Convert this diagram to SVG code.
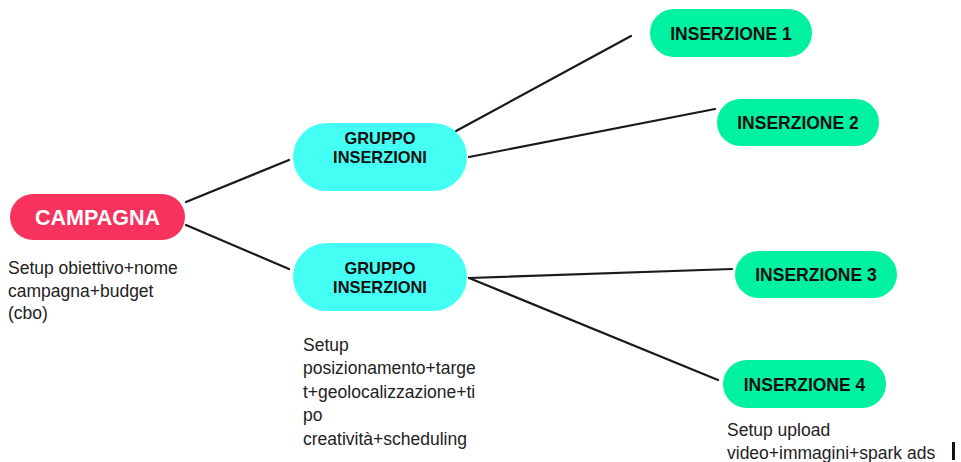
<svg xmlns="http://www.w3.org/2000/svg" width="961" height="462" viewBox="0 0 961 462">
<style>
.lbl{font-family:"Liberation Sans",Arial,sans-serif;font-weight:bold;text-anchor:middle;fill:#111}
.ins{font-size:17.5px}
.grp{font-size:16.4px}
.note{font-family:"Liberation Sans",Arial,sans-serif;font-size:17.5px;fill:#222}
.conn line{stroke:#1a1a1a;stroke-width:2.2;stroke-linecap:round}
</style>
<rect width="961" height="462" fill="#ffffff"/>
<g class="conn" id="connectors">
<line x1="186" y1="202" x2="289" y2="160"/>
<line x1="186" y1="225" x2="289" y2="269"/>
<line x1="456" y1="131" x2="631" y2="36"/>
<line x1="469" y1="157" x2="715" y2="109"/>
<line x1="469" y1="278" x2="732" y2="269"/>
<line x1="469" y1="278" x2="718" y2="380"/>
</g>
<g id="campagna">
<rect x="10" y="194" width="175" height="46" rx="23" fill="#F7325C"/>
<text class="lbl" x="97.5" y="225" font-size="21.5" fill="#ffffff" style="fill:#fff">CAMPAGNA</text>
</g>
<g id="note-campagna">
<text class="note" x="8" y="274">Setup obiettivo+nome</text>
<text class="note" x="8" y="297">campagna+budget</text>
<text class="note" x="8" y="319">(cbo)</text>
</g>
<g id="gruppo1">
<rect x="293" y="123" width="174" height="68" rx="34" fill="#44FFF4"/>
<text class="lbl grp" x="380" y="144">GRUPPO</text>
<text class="lbl grp" x="380" y="163">INSERZIONI</text>
</g>
<g id="gruppo2">
<rect x="293" y="243" width="174" height="68" rx="34" fill="#44FFF4"/>
<text class="lbl grp" x="380" y="274">GRUPPO</text>
<text class="lbl grp" x="380" y="293">INSERZIONI</text>
</g>
<g id="note-gruppo2">
<text class="note" x="303" y="351">Setup</text>
<text class="note" x="303" y="374">posizionamento+targe</text>
<text class="note" x="303" y="398">t+geolocalizzazione+ti</text>
<text class="note" x="303" y="421">po</text>
<text class="note" x="303" y="445">creatività+scheduling</text>
</g>
<g id="ins1">
<rect x="650" y="9" width="162" height="48" rx="24" fill="#00F2A0"/>
<text class="lbl ins" x="731" y="40">INSERZIONE 1</text>
</g>
<g id="ins2">
<rect x="717" y="99" width="162" height="47" rx="23.5" fill="#00F2A0"/>
<text class="lbl ins" x="798" y="129">INSERZIONE 2</text>
</g>
<g id="ins3">
<rect x="735" y="251" width="162" height="47" rx="23.5" fill="#00F2A0"/>
<text class="lbl ins" x="816" y="281">INSERZIONE 3</text>
</g>
<g id="ins4">
<rect x="723" y="360" width="163" height="48" rx="24" fill="#00F2A0"/>
<text class="lbl ins" x="804.5" y="391">INSERZIONE 4</text>
</g>
<g id="note-ins4">
<text class="note" x="727" y="436">Setup upload</text>
<text class="note" x="727" y="459">video+immagini+spark ads</text>
</g>
<rect x="952" y="442" width="3" height="18" fill="#111"/>
</svg>
